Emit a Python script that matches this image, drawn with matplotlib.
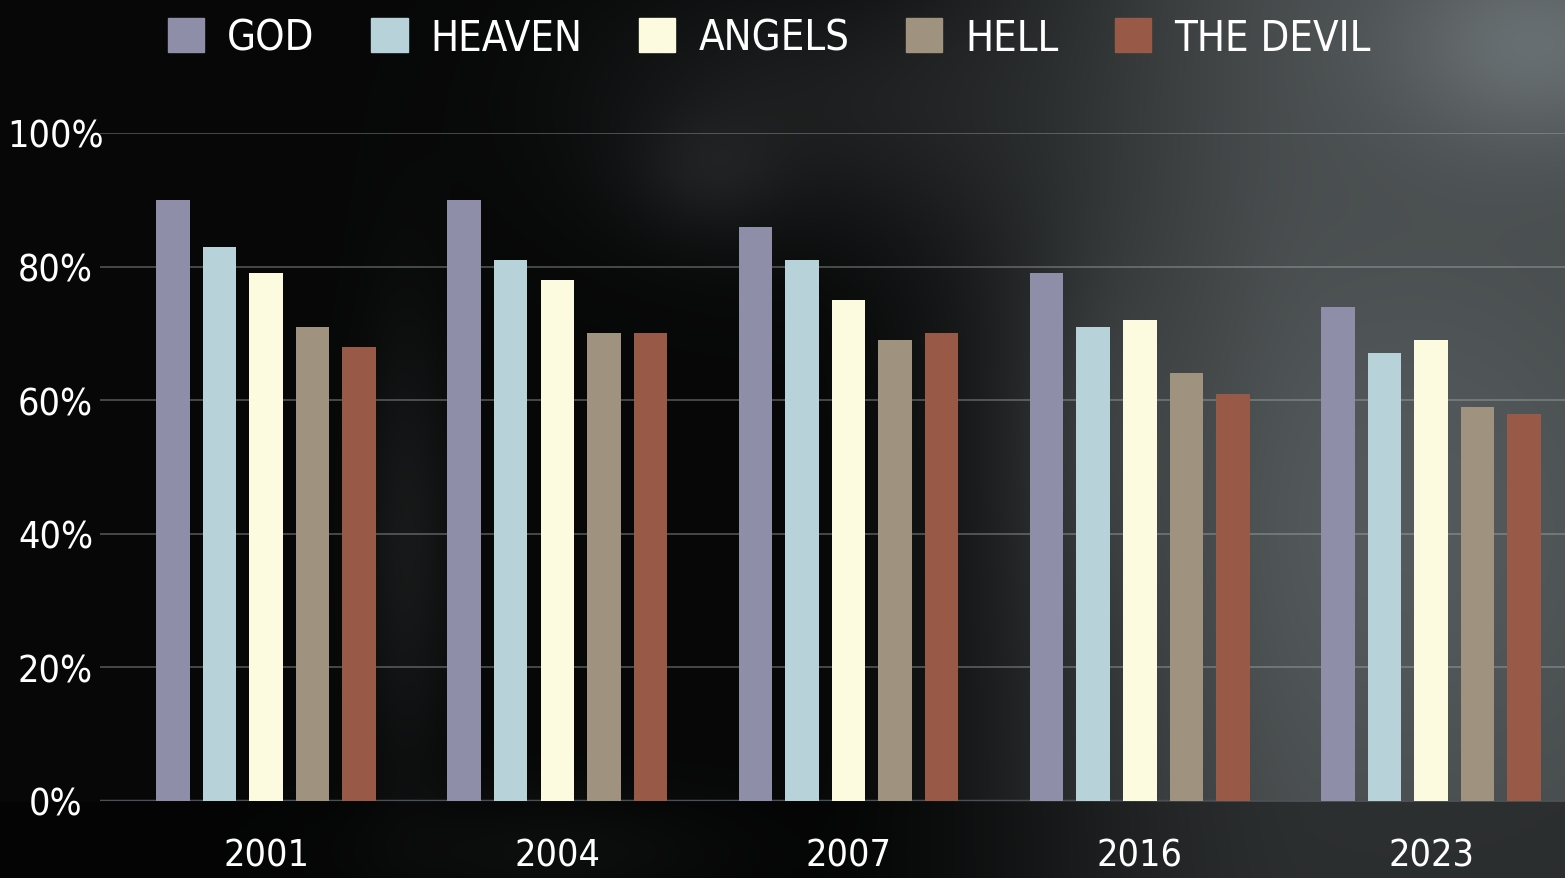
import numpy as np
import matplotlib
matplotlib.use('Agg')
import matplotlib.pyplot as plt
from matplotlib.patches import Patch

# survey data (share of US adults who believe in ...)
years = ['2001', '2004', '2007', '2016', '2023']
god = [90, 90, 86, 79, 74]
heaven = [83, 81, 81, 71, 67]
angels = [79, 78, 75, 72, 69]
hell = [71, 70, 69, 64, 59]
devil = [68, 70, 70, 61, 58]

series_names = ['GOD', 'HEAVEN', 'ANGELS', 'HELL', 'THE DEVIL']
series_vals = [god, heaven, angels, hell, devil]
colors = ['#8e8ea8', '#b8d2da', '#fdfbdf', '#9f937f', '#985a47']
yticks = [0, 20, 40, 60, 80, 100]

plt.rcParams['font.family'] = ['DejaVu Sans']
plt.rcParams['font.stretch'] = 'condensed'

W, H = 1565, 879
fig = plt.figure(figsize=(W / 100, H / 100), dpi=100)

# stormy sky backdrop, smooth blobs only
v, u = np.mgrid[0:H, 0:W]
u = u / W
v = v / H
def blob(cx, cy, rx, ry):
    return np.exp(-(((u - cx) / rx) ** 2 + ((v - cy) / ry) ** 2))
ramp = np.clip((u - 0.5) / 0.35, 0, 1)
ramp = ramp * ramp * (3 - 2 * ramp)
val = 0.03 + 0.27 * ramp
val += 0.14 * blob(0.98, 0.05, 0.1, 0.12)
val += 0.06 * blob(0.9, 0.6, 0.15, 0.3)
val += 0.09 * blob(0.52, 0.12, 0.14, 0.15)
val += 0.07 * blob(0.26, 0.62, 0.03, 0.25)
val += 0.05 * blob(0.45, 0.2, 0.05, 0.07)
val += 0.06 * blob(0.35, 0.97, 0.12, 0.06)
val += 0.05 * blob(0.7, 0.5, 0.05, 0.2)
val[v > 0.913] *= 0.6
val = np.clip(val, 0, 1)
bg = np.dstack([val * 0.92, val * 0.98, val * 1.0])
bgax = fig.add_axes([0, 0, 1, 1])
bgax.imshow(bg, aspect='auto', interpolation='bilinear')
bgax.axis('off')

ax = fig.add_axes([100 / W, 77 / H, 1465 / W, 668 / H])
ax.patch.set_alpha(0)
x = np.arange(len(years))
step = 0.16
bw = 0.115
for j, (name, vals) in enumerate(zip(series_names, series_vals)):
    ax.bar(x + (j - 2) * step, vals, bw, color=colors[j], label=name, zorder=3)

for t in yticks[1:]:
    ax.axhline(t, color='#b0b4b6', lw=1.3, alpha=0.4, zorder=1)
ax.axhline(0, color='#4a5054', lw=2.5, zorder=2)

ax.set_xlim(-0.57, 4.46)
ax.set_ylim(0, 100)
ax.set_xticks(x)
ax.set_xticklabels(years)
ax.set_yticks(yticks)
ax.set_yticklabels(['%d%%' % t for t in yticks])
for s in ax.spines.values():
    s.set_visible(False)
ax.tick_params(axis='both', length=0, colors='white', labelsize=27)
ax.tick_params(axis='y', pad=32)
ax.tick_params(axis='x', pad=26)
for lab in ax.get_yticklabels():
    lab.set_ha('center')

handles = [Patch(color=c) for c in colors]
fig.legend(handles, series_names, loc='upper left', bbox_to_anchor=(150 / W, 1.0),
           ncol=5, frameon=False, fontsize=30, labelcolor='white',
           handlelength=0.88, handleheight=0.85, handletextpad=0.55,
           columnspacing=1.35, borderaxespad=0.02)

fig.savefig('out.png', dpi=100, facecolor='black')
